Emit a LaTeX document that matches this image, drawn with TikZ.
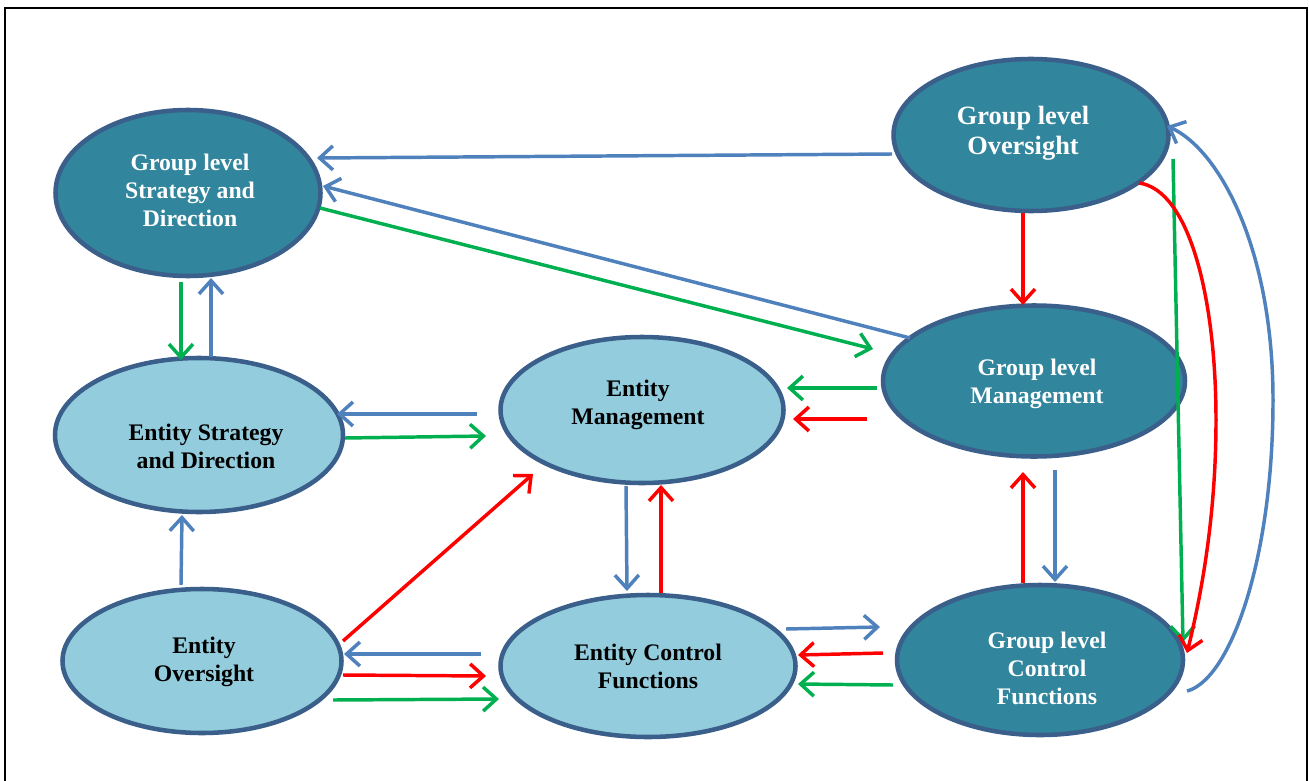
\documentclass[tikz,border=0pt]{standalone}
\usepackage{fontspec}
\setmainfont{Liberation Serif}
\usetikzlibrary{arrows.meta,shapes.geometric}
\definecolor{darkfill}{HTML}{31859C}
\definecolor{lightfill}{HTML}{93CDDD}
\definecolor{rim}{HTML}{3A5F8B}
\definecolor{ablue}{HTML}{4F81BD}
\definecolor{agreen}{HTML}{00B050}
\definecolor{ared}{HTML}{FF0000}
\tikzset{
  oval/.style={ellipse, draw=rim, line width=3.4pt, inner sep=0pt, outer sep=0pt},
  darkoval/.style={oval, fill=darkfill},
  lightoval/.style={oval, fill=lightfill},
  wtext/.style={text=white, font=\bfseries\fontsize{17.8}{21}\selectfont, align=center, inner sep=0pt},
  btext/.style={text=black, font=\bfseries\fontsize{17.8}{21}\selectfont, align=center, inner sep=0pt},
  arr/.style={line width=2.6pt, -{Straight Barb[length=10pt,width=18pt,line width=2.6pt]}},
  barr/.style={arr, draw=ablue},
  garr/.style={arr, draw=agreen},
  rarr/.style={arr, draw=ared},
}
\begin{document}
\begin{tikzpicture}[x=0.75pt,y=-0.75pt]
\useasboundingbox (0,0) rectangle (1309,781);
\fill[white] (0,0) rectangle (1309,781);
\draw[black,line width=1.5pt] (5,8) rectangle (1307,800);

% ellipses
\node[darkoval, minimum width=198.75pt, minimum height=124.5pt] (gsd) at (188,193) {};
\node[darkoval, minimum width=206.25pt, minimum height=114pt] (go) at (1031,135) {};
\node[darkoval, minimum width=226.5pt, minimum height=113.25pt] (gm) at (1034,381) {};
\node[lightoval, minimum width=216pt, minimum height=115.5pt] (esd) at (199,435) {};
\node[lightoval, minimum width=212.25pt, minimum height=109.5pt] (em) at (642,410) {};
\node[lightoval, minimum width=209.25pt, minimum height=108pt] (eo) at (202,661) {};
\node[lightoval, minimum width=221.25pt, minimum height=106.5pt] (ecf) at (648,666) {};
\node[darkoval, minimum width=214.5pt, minimum height=112.5pt] (gcf) at (1040,660) {};

% texts
\node[wtext] (gsdt) at (190,190) {Group level\\Strategy and\\Direction};
\node[wtext, font=\bfseries\fontsize{19.8}{22.5}\selectfont] (got) at (1023,133) {Group level\\Oversight};
\node[wtext] (gmt) at (1037,384) {Group level\\Management};
\node[btext] (esdt) at (206,446) {Entity Strategy\\and Direction};
\node[btext] (emt) at (638,405) {Entity\\Management};
\node[btext] (eot) at (204,662) {Entity\\Oversight};
\node[btext] (ecft) at (648,666) {Entity Control\\Functions};
\node[wtext] (gcft) at (1047,668) {Group level\\Control\\Functions};

% connectors
\draw[barr] ([shift={(-139,19)}]go.center) -- ([shift={(129,-35)}]gsd.center);
\draw[barr] ([shift={(-124,-43)}]gm.center) -- ([shift={(135,-7)}]gsd.center);
\draw[garr] ([shift={(132,15)}]gsd.center) -- ([shift={(-161,-32)}]gm.center);
\draw[rarr] ([shift={(-8,78)}]go.center) -- ([shift={(-11,-76)}]gm.center);
\draw[garr] ([shift={(142,24)}]go.center) -- ([shift={(143,-18)}]gcf.center);
\draw[rarr] ([shift={(108,48)}]go.center) .. controls (1190,190) and (1216,300) .. (1216,420)
  .. controls (1216,520) and (1200,600) .. ([shift={(147,-7)}]gcf.center);
\draw[barr] ([shift={(147,31)}]gcf.center) .. controls (1230,680) and (1273,560) .. (1273,400)
  .. controls (1273,250) and (1220,150) .. ([shift={(136,-9)}]go.center);
\draw[garr] ([shift={(-7,89)}]gsd.center) -- ([shift={(-18,-75)}]esd.center);
\draw[barr] ([shift={(12,-78)}]esd.center) -- ([shift={(23,85)}]gsd.center);
\draw[barr] ([shift={(-165,4)}]em.center) -- ([shift={(138,-21)}]esd.center);
\draw[garr] ([shift={(146,3)}]esd.center) -- ([shift={(-156,26)}]em.center);
\draw[garr] ([shift={(-157,7)}]gm.center) -- ([shift={(145,-22)}]em.center);
\draw[rarr] ([shift={(-167,38)}]gm.center) -- ([shift={(151,9)}]em.center);
\draw[barr] ([shift={(-16,76)}]em.center) -- ([shift={(-21,-75)}]ecf.center);
\draw[rarr] ([shift={(13,-73)}]ecf.center) -- ([shift={(19,75)}]em.center);
\draw[barr] ([shift={(-21,-76)}]eo.center) -- ([shift={(-17,80)}]esd.center);
\draw[rarr] ([shift={(141,-20)}]eo.center) -- ([shift={(-109,64)}]em.center);
\draw[barr] ([shift={(-167,-12)}]ecf.center) -- ([shift={(142,-7)}]eo.center);
\draw[rarr] ([shift={(141,14)}]eo.center) -- ([shift={(-162,10)}]ecf.center);
\draw[garr] ([shift={(131,39)}]eo.center) -- ([shift={(-149,33)}]ecf.center);
\draw[barr] ([shift={(138,-37)}]ecf.center) -- ([shift={(-160,-33)}]gcf.center);
\draw[rarr] ([shift={(-157,-7)}]gcf.center) -- ([shift={(150,-11)}]ecf.center);
\draw[garr] ([shift={(-147,25)}]gcf.center) -- ([shift={(150,18)}]ecf.center);
\draw[rarr] ([shift={(-17,-77)}]gcf.center) -- ([shift={(-11,91)}]gm.center);
\draw[barr] ([shift={(21,89)}]gm.center) -- ([shift={(15,-78)}]gcf.center);
\end{tikzpicture}
\end{document}
